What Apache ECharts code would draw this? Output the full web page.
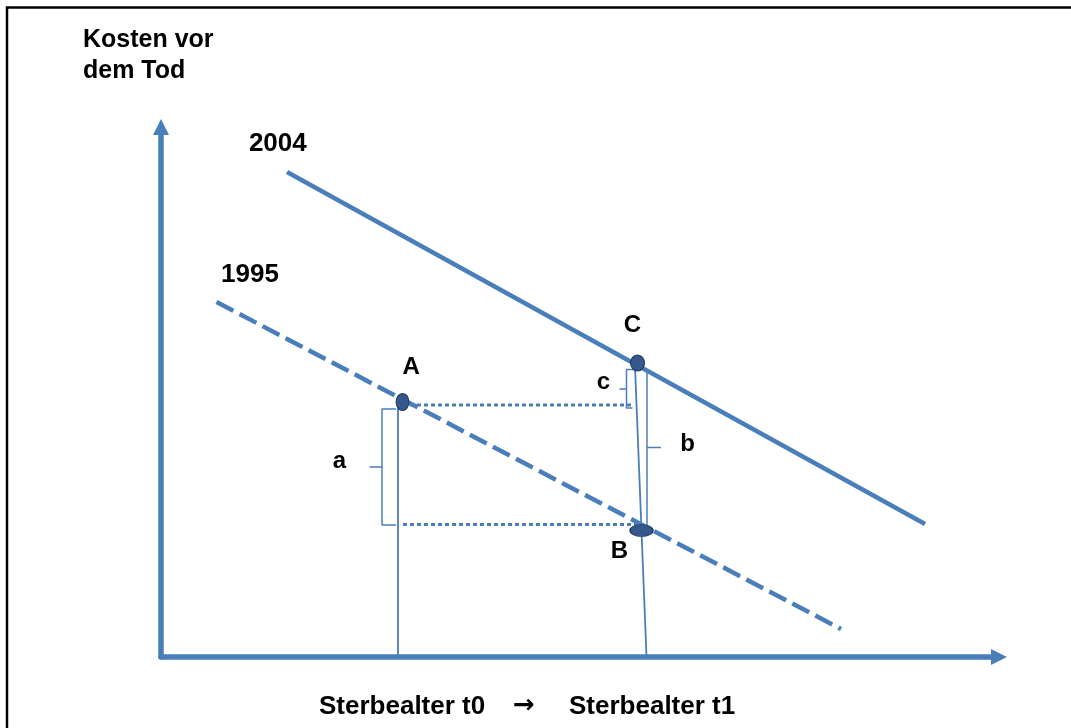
<!DOCTYPE html>
<html>
<head>
<meta charset="utf-8">
<title>Kosten vor dem Tod</title>
<script src="https://cdn.jsdelivr.net/npm/echarts@6/dist/echarts.min.js"></script>
<style>
    html, body {margin: 0; padding: 0; background: #fff;}
    #chart {width: 1071px; height: 728px;}
</style>
</head>
<body>
<div id="chart"></div>
<script>
// schematic coordinates: x = Sterbealter, y = Kosten (arbitrary units)
var line2004 = [[126, 485], [764, 133]];
var line1995 = [[55.5, 355], [680, 28]];
var pointA = [241.5, 255];
var pointB = [480.5, 126.5];
var pointC = [476.5, 294];
var dropA = [[237, 255], [237, 0]];
var dropBC = [[474, 291], [485.5, 0]];
var levelA = [[249, 252], [471.5, 252]];
var levelB = [[242, 132.5], [476, 132.5]];
var braceA = [[235, 248], [221, 248], [221, 190], [208.5, 190], [221, 190], [221, 132], [235, 132]];
var braceB = [[476, 287.5], [486, 287.5], [486, 209.5], [500, 209.5], [486, 209.5], [486, 131], [480, 131]];
var braceC = [[474, 287.5], [465.5, 287.5], [465.5, 268], [458.5, 268], [465.5, 268], [465.5, 249], [471.5, 249]];

var labelNames = ['2004', '1995', 'A', 'B', 'C', 'a', 'b', 'c'];
var labelPos = [[117.3, 513], [89.5, 382], [250.7, 289.3], [459, 105.5], [472, 331], [179, 195], [527, 212], [443, 274.5]];
var labelSizes = [26, 26, 24, 24, 24, 24, 24, 24];

var yTitle = 'Kosten vor\ndem Tod';
var xTitles = ['Sterbealter t0', '\u2192', 'Sterbealter t1'];

var BLUE = '#4a7ebb';
var FONT = 'Liberation Sans, Arial, sans-serif';

function seg(name, pts, width, type) {
    return {
        name: name,
        type: 'line',
        data: pts,
        symbol: 'none',
        silent: true,
        lineStyle: {color: BLUE, width: width, type: type || 'solid', cap: 'butt'},
        z: 2
    };
}

var chart = echarts.init(document.getElementById('chart'));

var labelData = [];
for (var i = 0; i < labelNames.length; i++) {
    labelData.push({
        name: labelNames[i],
        value: labelPos[i],
        label: {fontSize: labelSizes[i]}
    });
}

var boldText = {fontFamily: FONT, fontWeight: 'bold', color: '#000', fontSize: 26, lineHeight: 30};

var option = {
    animation: false,
    backgroundColor: '#fff',
    title: [
        {text: yTitle, left: 83, top: 25, padding: 0,
            textStyle: {fontFamily: FONT, fontWeight: 'bold', color: '#000', fontSize: 25, lineHeight: 31}},
        {text: xTitles[0], left: 319, top: 692, padding: 0, textStyle: boldText},
        {text: xTitles[1], left: 513, top: 691, padding: 0,
            textStyle: {fontFamily: 'DejaVu Sans', fontWeight: 'bold', color: '#000', fontSize: 26, lineHeight: 30}},
        {text: xTitles[2], left: 569, top: 692, padding: 0, textStyle: boldText}
    ],
    grid: {left: 161, right: 72, top: 127, bottom: 71},
    xAxis: {
        type: 'value', min: 0, max: 838,
        axisLine: {lineStyle: {color: BLUE, width: 5.5}, symbol: ['none', 'triangle'], symbolSize: [16, 16]},
        axisTick: {show: false}, axisLabel: {show: false}, splitLine: {show: false}
    },
    yAxis: {
        type: 'value', min: 0, max: 530,
        axisLine: {show: true, lineStyle: {color: BLUE, width: 5.5}, symbol: ['none', 'triangle'], symbolSize: [16, 16]},
        axisTick: {show: false}, axisLabel: {show: false}, splitLine: {show: false}
    },
    graphic: [{
        type: 'rect', shape: {x: 7, y: 7.5, width: 1200, height: 900},
        style: {fill: 'none', stroke: '#000', lineWidth: 2.5}, silent: true
    }],
    series: [
        seg('2004', line2004, 4.5),
        seg('1995', line1995, 4.5, [19, 7]),
        seg('dropA', dropA, 1.8),
        seg('dropBC', dropBC, 1.8),
        seg('levelA', levelA, 3, [4, 3]),
        seg('levelB', levelB, 3, [4, 3]),
        seg('braceA', braceA, 1.5),
        seg('braceB', braceB, 1.5),
        seg('braceC', braceC, 1.5),
        {
            name: 'points',
            type: 'scatter',
            silent: true,
            z: 5,
            itemStyle: {color: '#34578c', borderColor: '#1c355c', borderWidth: 1, opacity: 1},
            data: [
                {value: pointA, symbolSize: [13, 17]},
                {value: pointB, symbolSize: [23, 12]},
                {value: pointC, symbolSize: [14, 16]}
            ]
        },
        {
            name: 'labels',
            type: 'scatter',
            silent: true,
            symbolSize: 1,
            itemStyle: {color: 'rgba(0,0,0,0)', opacity: 1},
            z: 6,
            label: {
                show: true,
                position: [0, 0],
                align: 'center',
                verticalAlign: 'middle',
                formatter: '{b}',
                fontFamily: FONT,
                fontWeight: 'bold',
                color: '#000',
                textBorderWidth: 0
            },
            data: labelData
        }
    ]
};
chart.setOption(option);
</script>
</body>
</html>
